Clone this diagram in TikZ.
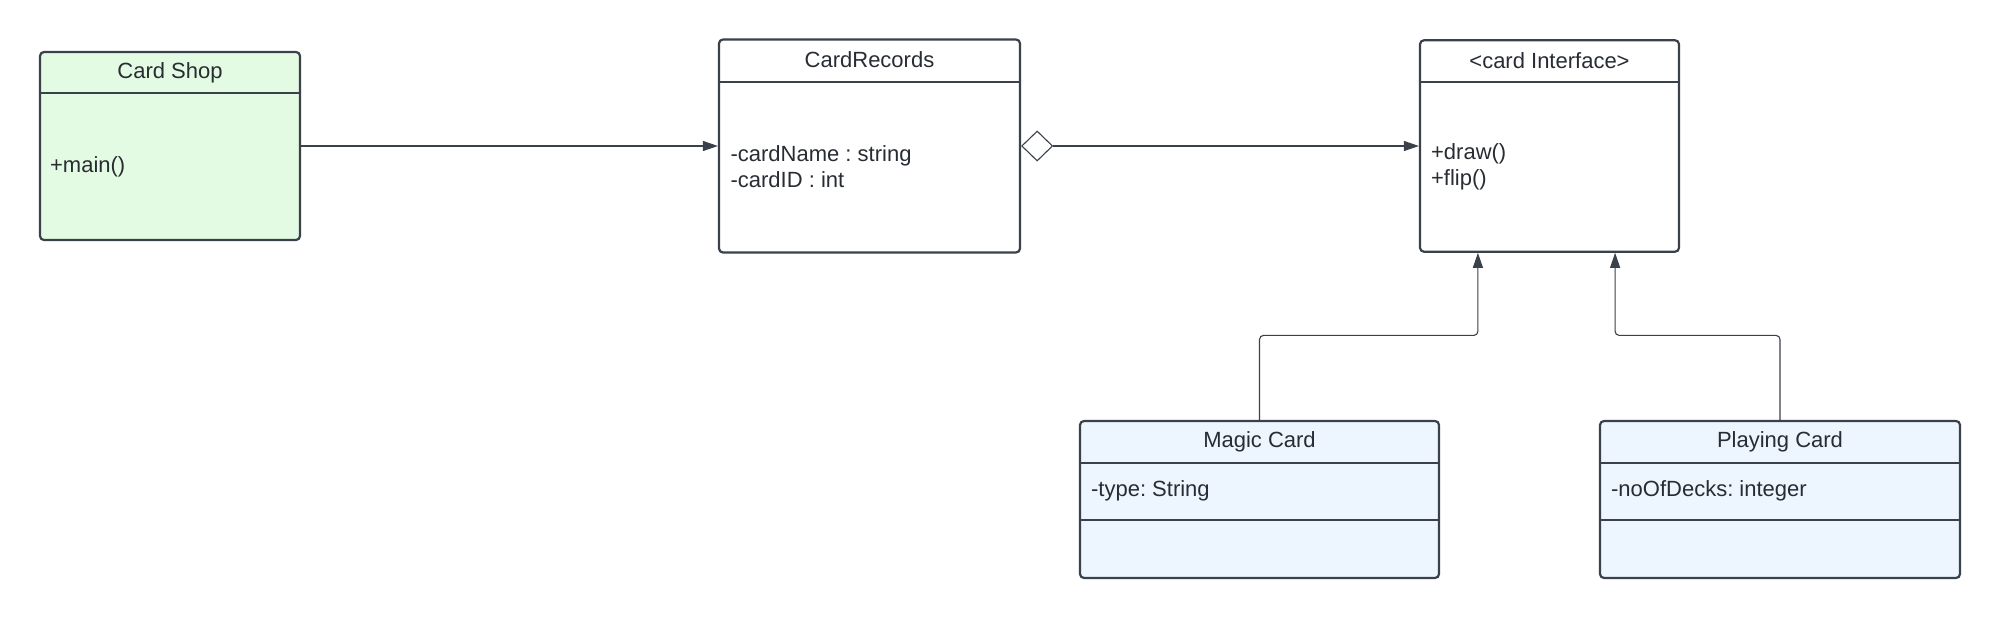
\documentclass[tikz,border=0pt]{standalone}
\usepackage{fontspec}
\setmainfont{Liberation Sans}
\frenchspacing
\usetikzlibrary{calc,positioning,shapes.geometric,arrows.meta}
\definecolor{umlline}{HTML}{3A414A}
\definecolor{umltext}{HTML}{282C33}
\definecolor{shopgreen}{HTML}{E3FAE3}
\definecolor{cardblue}{HTML}{EDF5FF}

\begin{document}
\begin{tikzpicture}[x=1pt, y=-1pt,
	classbox/.style={draw=umlline, line width=2.2pt, rounded corners=4pt, inner sep=0pt},
	sepline/.style={draw=umlline, line width=2pt},
	title/.style={text=umltext, font=\fontsize{22}{26.6}\selectfont, inner sep=0pt},
	member/.style={title, align=left, anchor=west},
	conn/.style={draw=umlline, line width=1.1pt, -{Triangle[length=15pt,width=10pt]}},
	inherit/.style={conn, rounded corners=4pt},
	aggr/.style={diamond, draw=umlline, line width=1.1pt, fill=white, minimum width=31pt, minimum height=30pt, inner sep=0pt}]
	\useasboundingbox (0,0) rectangle (2000,618);
	% classes
	\node[classbox, fill=shopgreen, minimum width=260pt, minimum height=188pt] (shop) at (170,146) {};
	\node[classbox, fill=white, minimum width=301pt, minimum height=213pt] (records) at (869.5,146) {};
	\node[classbox, fill=white, minimum width=259pt, minimum height=211.5pt] (iface) at (1549.5,146) {};
	\node[classbox, fill=cardblue, minimum width=359pt, minimum height=157pt] (magic) at (1259.5,499.5) {};
	\node[classbox, fill=cardblue, minimum width=360pt, minimum height=157pt] (playing) at (1780,499.5) {};
	% compartments
	\draw[sepline] ([yshift=-42pt]shop.north west) -- ([yshift=-42pt]shop.north east);
	\draw[sepline] ([yshift=-43.5pt]records.north west) -- ([yshift=-43.5pt]records.north east);
	\draw[sepline] ([yshift=-43pt]iface.north west) -- ([yshift=-43pt]iface.north east);
	\foreach \cls in {magic,playing}{
		\draw[sepline] ([yshift=-43pt]\cls.north west) -- ([yshift=-43pt]\cls.north east);
		\draw[sepline] ([yshift=-100pt]\cls.north west) -- ([yshift=-100pt]\cls.north east);
	}
	% names
	\node[title] (shopname) at ($(shop.north)+(0,22)$) {Card Shop};
	\node[title] (recordsname) at ($(records.north)+(0,21.5)$) {CardRecords};
	\node[title] (ifacename) at ($(iface.north)+(0,21)$) {<card Interface>};
	\node[title] (magicname) at ($(magic.north)+(0,21.5)$) {Magic Card};
	\node[title] (playingname) at ($(playing.north)+(0,21.5)$) {Playing Card};
	% members
	\node[member] (shopops) at ($(shop.west)+(11,21)$) {+main()};
	\node[member] (recordsattr) at ($(records.west)+(12.5,20.5)$) {-cardName : string\\-cardID : int};
	\node[member] (ifaceops) at ($(iface.west)+(12,21)$) {+draw()\\+flip()};
	\node[member] (magicattr) at ($(magic.north west)+(12,71)$) {-type: String};
	\node[member] (playingattr) at ($(playing.north west)+(12,71)$) {-noOfDecks: integer};
	% relations
	\node[aggr, anchor=west] (agg) at (records.east) {};
	\draw[conn] (shop) -- (records);
	\draw[conn] (agg) -- (iface);
	\draw[inherit] (magic.north) -- ++(0,-84.5) -| ([xshift=59pt]iface.south west);
	\draw[inherit] (playing.north) -- ++(0,-84.5) -| ([xshift=-65pt]iface.south east);
\end{tikzpicture}
\end{document}
